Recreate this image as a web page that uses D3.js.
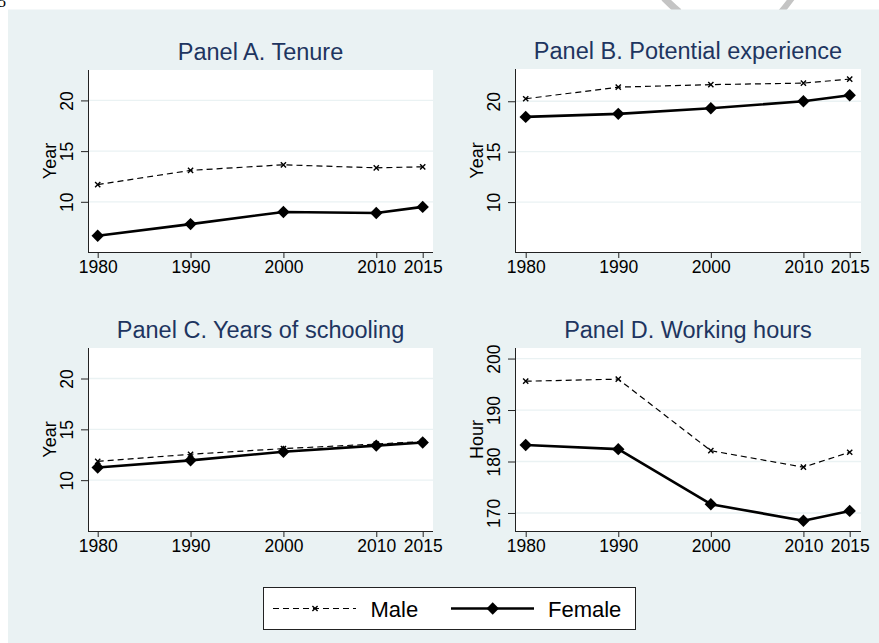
<!DOCTYPE html>
<html>
<head>
<meta charset="utf-8">
<script src="https://cdn.jsdelivr.net/npm/d3@7"></script>
<style>
  html, body { margin: 0; padding: 0; background: #ffffff; }
  svg { display: block; font-family: "Liberation Sans", Arial, Helvetica, sans-serif; }
</style>
</head>
<body>
<svg id="chart" width="879" height="643"></svg>
<script>
// ---- data ----
const years = [1980, 1990, 2000, 2010, 2015];

const tenureMale       = [11.7, 13.1, 13.65, 13.35, 13.45];
const tenureFemale     = [6.65, 7.8, 9.0, 8.9, 9.5];
const experienceMale   = [20.25, 21.4, 21.65, 21.8, 22.2];
const experienceFemale = [18.45, 18.75, 19.3, 20.0, 20.6];
const schoolingMale    = [11.85, 12.55, 13.1, 13.55, 13.8];
const schoolingFemale  = [11.25, 11.95, 12.8, 13.4, 13.7];
const hoursMale        = [195.6, 196.0, 182.1, 178.9, 181.8];
const hoursFemale      = [183.2, 182.4, 171.7, 168.5, 170.4];

const panelTitles = ["Panel A. Tenure", "Panel B. Potential experience",
                     "Panel C. Years of schooling", "Panel D. Working hours"];
const yTitles = ["Year", "Year", "Year", "Hour"];
const yearTicks = [10, 15, 20];
const hourTicks = [170, 180, 190, 200];
const seriesNames = ["Male", "Female"];

// ---- layout ----
const panels = [
  { male: tenureMale, female: tenureFemale, ticks: yearTicks, domain: [5.05, 23.0],
    left: 88, right: 433, top: 70, bottom: 252, x0: 97.7, x1: 422.7, titleY: 60 },
  { male: experienceMale, female: experienceFemale, ticks: yearTicks, domain: [5.05, 23.2],
    left: 515, right: 861, top: 69, bottom: 252, x0: 525.7, x1: 849.7, titleY: 59 },
  { male: schoolingMale, female: schoolingFemale, ticks: yearTicks, domain: [5.0, 23.0],
    left: 88, right: 433, top: 348, bottom: 531, x0: 97.7, x1: 422.7, titleY: 337.5 },
  { male: hoursMale, female: hoursFemale, ticks: hourTicks, domain: [166.5, 202.05],
    left: 515, right: 861, top: 348, bottom: 531, x0: 525.7, x1: 849.7, titleY: 337.5 }
];

const bg = "#eaf2f3";
const titleColor = "#1e3560";
const svg = d3.select("#chart");

// page furniture above the graph: page number and a grey mark
svg.append("text").attr("x", -2).attr("y", 7)
  .attr("font-family", "Liberation Serif, serif").attr("font-size", 16).text("5");
svg.append("path").attr("d", "M664,-2 Q671,5 679,12").attr("fill", "none")
  .attr("stroke", "#c4c4c4").attr("stroke-width", 7);
svg.append("path").attr("d", "M792,-2 Q787,5 781,12").attr("fill", "none")
  .attr("stroke", "#c4c4c4").attr("stroke-width", 6);

// graph background
svg.append("rect").attr("x", 8).attr("y", 9.5).attr("width", 871).attr("height", 634)
  .attr("fill", bg);

const diamondPath = "M0,-6.2L6.2,0L0,6.2L-6.2,0Z";

function drawMale(g, pts, markers) {
  g.append("path").datum(pts)
    .attr("fill", "none").attr("stroke", "#000").attr("stroke-width", 1.2)
    .attr("stroke-dasharray", "6,4")
    .attr("d", d3.line().x(d => d[0]).y(d => d[1]));
  g.selectAll(null).data(markers).join("path")
    .attr("transform", d => `translate(${d[0]},${d[1]})`)
    .attr("d", "M-2.6,-2.6L2.6,2.6M-2.6,2.6L2.6,-2.6")
    .attr("stroke", "#000").attr("stroke-width", 1.4);
}

function drawFemale(g, pts, markers) {
  g.append("path").datum(pts)
    .attr("fill", "none").attr("stroke", "#000").attr("stroke-width", 2.6)
    .attr("stroke-linejoin", "round")
    .attr("d", d3.line().x(d => d[0]).y(d => d[1]));
  g.selectAll(null).data(markers).join("path")
    .attr("transform", d => `translate(${d[0]},${d[1]})`)
    .attr("d", diamondPath)
    .attr("fill", "#000");
}

panels.forEach((p, i) => {
  const x = d3.scaleLinear().domain([years[0], years[years.length - 1]]).range([p.x0, p.x1]);
  const y = d3.scaleLinear().domain(p.domain).range([p.bottom, p.top]);
  const g = svg.append("g");

  // plot region
  g.append("rect").attr("x", p.left).attr("y", p.top)
    .attr("width", p.right - p.left).attr("height", p.bottom - p.top).attr("fill", "#fff");

  // grid lines
  g.selectAll(null).data(p.ticks).join("line")
    .attr("x1", p.left).attr("x2", p.right)
    .attr("y1", d => y(d)).attr("y2", d => y(d))
    .attr("stroke", bg).attr("stroke-width", 1.3);

  // y axis
  const ya = g.append("g").attr("transform", `translate(${p.left},0)`)
    .call(d3.axisLeft(y).tickValues(p.ticks).tickSize(7).tickFormat(d3.format("d")));
  ya.select(".domain").attr("d", `M0.5,${p.top}V${p.bottom + 0.5}`).attr("stroke", "#222");
  ya.selectAll(".tick line").attr("stroke", "#222");
  ya.selectAll(".tick text")
    .attr("x", null).attr("dy", null)
    .attr("transform", "translate(-15,0) rotate(-90)")
    .attr("text-anchor", "middle")
    .attr("font-size", 17.5).attr("fill", "#000")
    .attr("font-family", "Liberation Sans, Arial, sans-serif");

  // x axis
  const xa = g.append("g").attr("transform", `translate(0,${p.bottom})`)
    .call(d3.axisBottom(x).tickValues(years).tickSize(6).tickPadding(3).tickFormat(d3.format("d")));
  xa.select(".domain").attr("d", `M${p.left},0.5H${p.right}`).attr("stroke", "#222");
  xa.selectAll(".tick line").attr("stroke", "#222");
  xa.selectAll(".tick text").attr("font-size", 17.5).attr("fill", "#000")
    .attr("font-family", "Liberation Sans, Arial, sans-serif");

  // y axis title
  g.append("text")
    .attr("transform", `translate(${p.left - 32},${(p.top + p.bottom) / 2}) rotate(-90)`)
    .attr("text-anchor", "middle").attr("font-size", 18).attr("fill", "#000")
    .text(yTitles[i]);

  // panel title
  g.append("text").attr("x", (p.left + p.right) / 2).attr("y", p.titleY)
    .attr("text-anchor", "middle").attr("font-size", 23.5).attr("fill", titleColor)
    .text(panelTitles[i]);

  // series
  const malePts = years.map((yr, k) => [x(yr), y(p.male[k])]);
  const femalePts = years.map((yr, k) => [x(yr), y(p.female[k])]);
  drawMale(g, malePts, malePts);
  drawFemale(g, femalePts, femalePts);
});

// legend
const lg = svg.append("g");
lg.append("rect").attr("x", 263.5).attr("y", 587.5).attr("width", 372).attr("height", 42)
  .attr("fill", "#fff").attr("stroke", "#222").attr("stroke-width", 1);
const ly = 608.5;
drawMale(lg, [[273, ly], [356, ly]], [[315, ly]]);
lg.append("text").attr("x", 370.5).attr("y", ly + 8).attr("font-size", 22).text(seriesNames[0]);
drawFemale(lg, [[451, ly], [534, ly]], [[492.7, ly]]);
lg.append("text").attr("x", 548).attr("y", ly + 8).attr("font-size", 22).text(seriesNames[1]);
</script>
</body>
</html>
